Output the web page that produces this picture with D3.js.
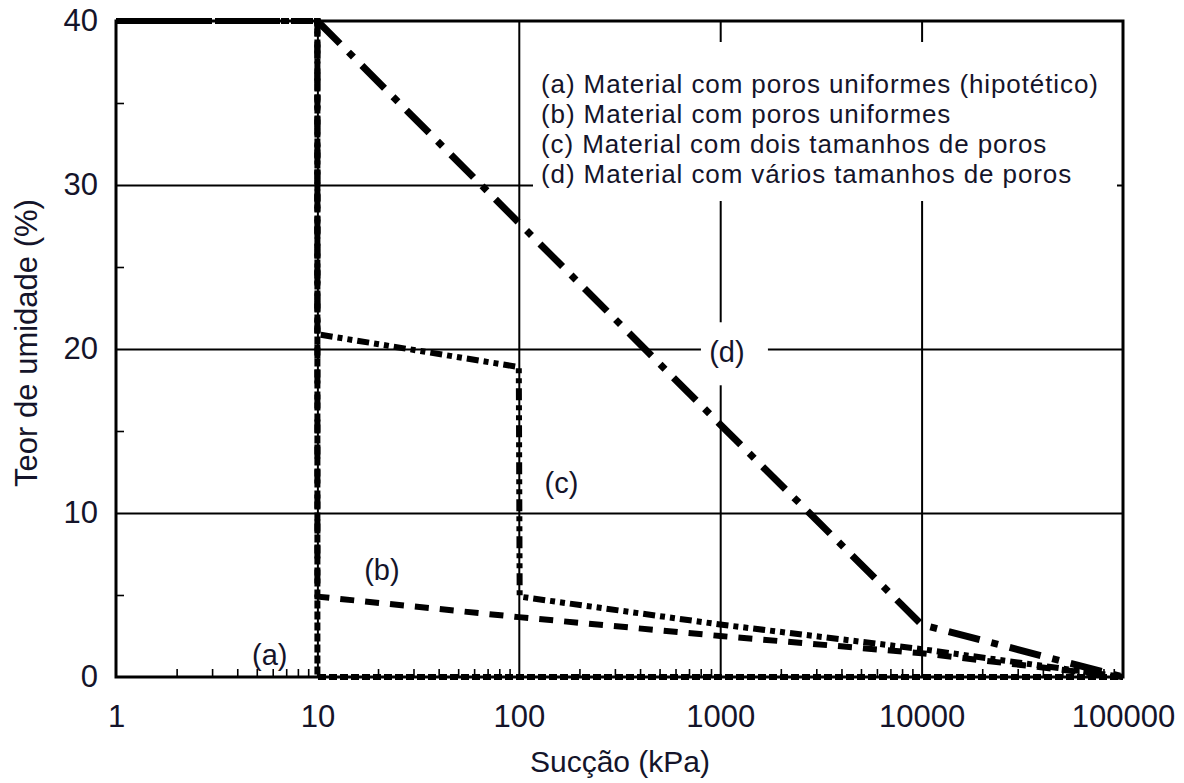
<!DOCTYPE html>
<html>
<head>
<meta charset="utf-8">
<script src="https://cdn.jsdelivr.net/npm/d3@7"></script>
<style>
  html, body { margin: 0; padding: 0; background: #fff; }
  svg { display: block; font-family: "Liberation Sans", Arial, sans-serif; }
  text { fill: #14142a; }
</style>
</head>
<body>
<svg id="chart" width="1184" height="783"></svg>
<script>
// Suction (kPa) and moisture content (%) for each retention curve
const suctionA = [1, 10, 10, 100000];
const moistureA = [40, 40, 0, 0];

const suctionB = [1, 10, 10, 100, 1000, 10000, 100000];
const moistureB = [40, 40, 4.9, 3.65, 2.5, 1.45, 0];

const suctionC = [1, 10, 10, 100, 101, 1000, 10000, 100000];
const moistureC = [40, 40, 20.9, 18.9, 4.9, 3.2, 1.7, 0];

const suctionD = [10, 100, 1000, 10000, 100000];
const moistureD = [40, 27.7, 15.4, 3.2, 0];

const xTickValues = [1, 10, 100, 1000, 10000, 100000];
const yTickValues = [0, 10, 20, 30, 40];
const yMinorValues = [5, 15, 25, 35];

const legendLines = [
  "(a) Material com poros uniformes (hipotético)",
  "(b) Material com poros uniformes",
  "(c) Material com dois tamanhos de poros",
  "(d) Material com vários tamanhos de poros"
];

const curveLabels = [
  { text: "(a)", x: 5.8, y: 1.35 },
  { text: "(b)", x: 20.9, y: 6.5 },
  { text: "(c)", x: 163, y: 11.8 },
  { text: "(d)", x: 1080, y: 19.8 }
];

const svg = d3.select("#chart");
const margin = { left: 116, right: 1123, top: 21, bottom: 677 };

const x = d3.scaleLog().domain([1, 100000]).range([margin.left, margin.right]);
const y = d3.scaleLinear().domain([0, 40]).range([margin.bottom, margin.top]);
const plotH = margin.bottom - margin.top;
const plotW = margin.right - margin.left;

// minor log ticks 2..9 within each decade
const xMinor = [];
for (let p = 0; p < 5; p++) {
  for (let m = 2; m <= 9; m++) xMinor.push(m * Math.pow(10, p));
}

const gInner = xTickValues.slice(1, -1);
const yInner = yTickValues.slice(1, -1);

// grid lines
svg.append("g")
  .attr("transform", `translate(0,${margin.bottom})`)
  .call(d3.axisBottom(x).tickValues(gInner).tickSize(-plotH).tickFormat(""))
  .call(g => g.select(".domain").remove())
  .selectAll("line").attr("stroke", "#000").attr("stroke-width", 2);

svg.append("g")
  .attr("transform", `translate(${margin.left},0)`)
  .call(d3.axisLeft(y).tickValues(yInner).tickSize(-plotW).tickFormat(""))
  .call(g => g.select(".domain").remove())
  .selectAll("line").attr("stroke", "#000").attr("stroke-width", 2);

// minor ticks, pointing inward
svg.append("g")
  .attr("transform", `translate(0,${margin.bottom})`)
  .call(d3.axisBottom(x).tickValues(xMinor).tickSize(-8).tickFormat(""))
  .call(g => g.select(".domain").remove())
  .selectAll("line").attr("stroke", "#000").attr("stroke-width", 1.6);

svg.append("g")
  .attr("transform", `translate(${margin.left},0)`)
  .call(d3.axisLeft(y).tickValues(yMinorValues).tickSize(-8).tickFormat(""))
  .call(g => g.select(".domain").remove())
  .selectAll("line").attr("stroke", "#000").attr("stroke-width", 1.6);

// frame
svg.append("rect")
  .attr("x", margin.left).attr("y", margin.top)
  .attr("width", plotW).attr("height", plotH)
  .attr("fill", "none").attr("stroke", "#000").attr("stroke-width", 3);

// legend block with white backing
const legendG = svg.append("g");
legendG.append("rect")
  .attr("x", 533).attr("y", 42).attr("width", 584).attr("height", 159)
  .attr("fill", "#fff");
legendG.selectAll("text")
  .data(legendLines)
  .join("text")
  .attr("x", 541)
  .attr("y", (d, i) => 93 + i * 30)
  .attr("font-size", 26)
  .attr("letter-spacing", 0.9)
  .text(d => d);

// curves
const line = d3.line().x(d => x(d[0])).y(d => y(d[1]));
const curves = [
  { xs: suctionD, ys: moistureD, dash: "32,12,7,12", w: 7 },
  { xs: suctionC, ys: moistureC, dash: "12,5,5,5,5,5", w: 6 },
  { xs: suctionB, ys: moistureB, dash: "14,11", w: 6 },
  { xs: suctionA, ys: moistureA, dash: "8,3", w: 6 }
];
svg.append("g").selectAll("path")
  .data(curves)
  .join("path")
  .attr("d", c => line(c.xs.map((v, i) => [v, c.ys[i]])))
  .attr("fill", "none")
  .attr("stroke", "#000")
  .attr("stroke-width", c => c.w)
  .attr("stroke-dasharray", c => c.dash)
  .attr("stroke-linejoin", "miter");

// curve labels
const lblG = svg.append("g");
curveLabels.forEach(l => {
  const cx = x(l.x), cy = y(l.y);
  if (l.text === "(d)") {
    lblG.append("rect")
      .attr("x", cx - 26).attr("y", cy - 30)
      .attr("width", 67).attr("height", 63)
      .attr("fill", "#fff");
  }
  lblG.append("text")
    .attr("x", cx).attr("y", cy)
    .attr("text-anchor", "middle")
    .attr("dominant-baseline", "central")
    .attr("font-size", 29)
    .text(l.text);
});

// tick labels
svg.append("g")
  .attr("transform", `translate(0,${margin.bottom})`)
  .call(d3.axisBottom(x).tickValues(xTickValues).tickSize(0).tickPadding(28).tickFormat(d3.format("d")))
  .call(g => g.select(".domain").remove())
  .selectAll("text").attr("font-size", 31).attr("fill", "#14142a")
  .attr("font-family", "Liberation Sans, Arial, sans-serif");

svg.append("g")
  .attr("transform", `translate(${margin.left},0)`)
  .call(d3.axisLeft(y).tickValues(yTickValues).tickSize(0).tickPadding(18).tickFormat(d3.format("d")))
  .call(g => g.select(".domain").remove())
  .selectAll("text").attr("font-size", 31).attr("fill", "#14142a")
  .attr("font-family", "Liberation Sans, Arial, sans-serif");

// axis titles
svg.append("text")
  .attr("x", 620).attr("y", 772)
  .attr("text-anchor", "middle")
  .attr("font-size", 30)
  .text("Sucção (kPa)");

svg.append("text")
  .attr("transform", `translate(37,343) rotate(-90)`)
  .attr("text-anchor", "middle")
  .attr("font-size", 31)
  .text("Teor de umidade (%)");
</script>
</body>
</html>
